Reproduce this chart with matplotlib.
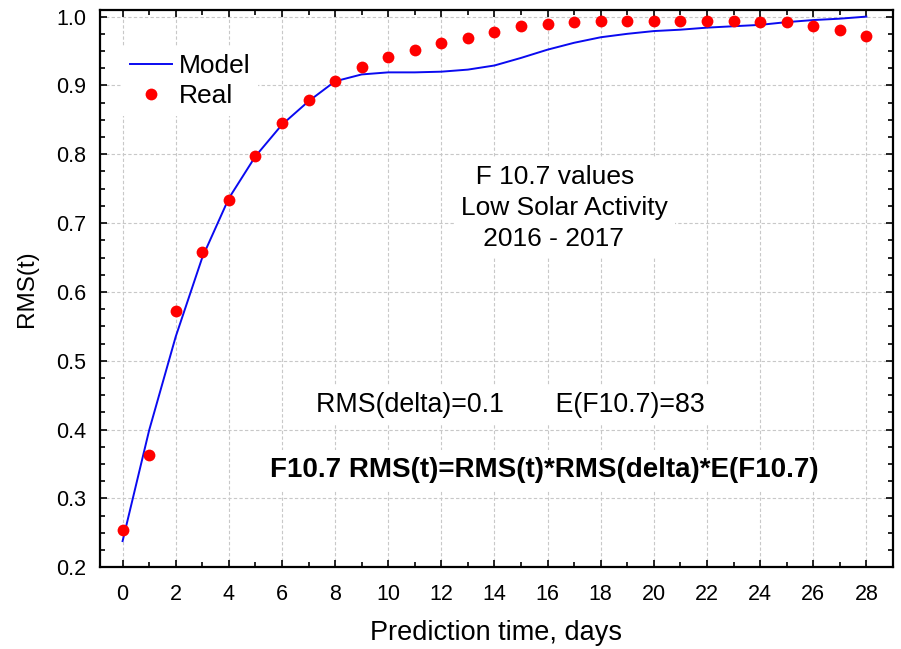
import matplotlib

matplotlib.use("Agg")
import matplotlib.pyplot as plt
import numpy as np
from matplotlib.ticker import MultipleLocator

plt.rcParams["font.family"] = ["Liberation Sans", "DejaVu Sans"]

# prediction horizon, days
days = np.arange(0, 29)

model_rms = [0.238, 0.399, 0.535, 0.650, 0.736, 0.797, 0.843, 0.877, 0.906, 0.916,
             0.919, 0.919, 0.920, 0.923, 0.929, 0.940, 0.952, 0.962, 0.970, 0.975,
             0.979, 0.981, 0.984, 0.986, 0.988, 0.992, 0.995, 0.997, 1.000]

real_rms = [0.254, 0.363, 0.573, 0.658, 0.734, 0.798, 0.845, 0.879, 0.907, 0.927,
            0.941, 0.952, 0.961, 0.969, 0.978, 0.986, 0.989, 0.992, 0.994, 0.994,
            0.994, 0.994, 0.994, 0.994, 0.992, 0.992, 0.986, 0.980, 0.972]

x_ticks = np.arange(0, 29, 2)
y_ticks = np.round(np.arange(0.2, 1.01, 0.1), 1)

info_text = "  F 10.7 values\nLow Solar Activity\n   2016 - 2017"
rms_text = "RMS(delta)=0.1       E(F10.7)=83"
formula_text = "F10.7 RMS(t)=RMS(t)*RMS(delta)*E(F10.7)"

fig = plt.figure(figsize=(9.01, 6.49), dpi=100)
ax = fig.add_axes([0.111, 0.126, 0.880, 0.859])

ax.plot(days, model_rms, color="#0a0af0", linewidth=1.4, label="Model", zorder=3)
ax.plot(days, real_rms, linestyle="none", marker="o", markersize=8.5,
        color="#ff0000", markeredgewidth=0, label="Real", zorder=4)

ax.set_xlim(-0.85, 29.0)
ax.set_ylim(0.2, 1.01)
ax.set_xticks(x_ticks)
ax.set_yticks(y_ticks)
ax.set_yticklabels([f"{v:.1f}" for v in y_ticks])
ax.xaxis.set_minor_locator(MultipleLocator(1))
ax.yaxis.set_minor_locator(MultipleLocator(0.025))
ax.tick_params(which="both", direction="in", top=True, right=True, width=1.2)
ax.tick_params(which="major", length=5, labelsize=15.5)
ax.tick_params(axis="x", which="major", pad=12)
ax.tick_params(axis="y", which="major", pad=10)
ax.tick_params(which="minor", length=3.5)
for sp in ax.spines.values():
    sp.set_linewidth(1.6)

ax.grid(True, which="major", color="#c8c8c8", linestyle=(0, (3, 2)), linewidth=0.8)
ax.set_axisbelow(True)

ax.set_xlabel("Prediction time, days", fontsize=19.5, labelpad=11)
ax.set_ylabel("RMS(t)", fontsize=17.5, labelpad=13)

leg = ax.legend(loc="upper left", bbox_to_anchor=(0.028, 0.935), borderaxespad=0,
                fontsize=19, frameon=True, framealpha=1, edgecolor="none",
                fancybox=False, handlelength=1.6, handletextpad=0.25,
                labelspacing=0.25, borderpad=0.3)

white_box = dict(boxstyle="square,pad=0.25", facecolor="white", edgecolor="none")
ax.text(12.75, 0.722, info_text, fontsize=19, ha="left", va="center",
        multialignment="left", linespacing=1.38, bbox=white_box, zorder=2)
ax.text(7.3, 0.4356, rms_text, fontsize=19.3, ha="left", va="center",
        bbox=white_box, zorder=2)
ax.text(5.55, 0.341, formula_text, fontsize=20, fontweight="bold", ha="left",
        va="center", bbox=white_box, zorder=2)

fig.savefig("out.png", dpi=100)
plt.close(fig)
